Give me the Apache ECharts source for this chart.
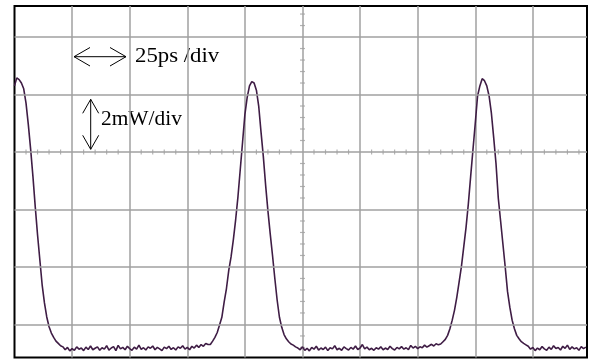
<!DOCTYPE html>
<html>
<head>
<meta charset="utf-8">
<script src="https://cdn.jsdelivr.net/npm/echarts@6/dist/echarts.min.js"></script>
<style>
  html, body { margin: 0; padding: 0; background: #fff; }
  #chart { width: 597px; height: 361px; }
</style>
</head>
<body>
<div id="chart"></div>
<script>
// scope trace: one sample per ps, power in mW (25 ps/div, 2 mW/div)
const sampleStartPs = 0;
const sampleStepPs = 1;
const powerMw = [
  9.30, 9.58, 9.52, 9.40, 9.20, 8.70, 7.95, 7.10, 6.15, 5.10,
  4.12, 3.25, 2.38, 1.75, 1.26, 0.92, 0.70, 0.55, 0.42, 0.34,
  0.26, 0.22, 0.12, 0.20, 0.08, 0.16, 0.10, 0.22, 0.14, 0.18,
  0.09, 0.21, 0.13, 0.25, 0.12, 0.17, 0.22, 0.10, 0.19, 0.14,
  0.26, 0.11, 0.18, 0.23, 0.09, 0.27, 0.15, 0.20, 0.12, 0.24,
  0.16, 0.10, 0.21, 0.14, 0.28, 0.13, 0.19, 0.11, 0.22, 0.17,
  0.25, 0.12, 0.20, 0.15, 0.09, 0.21, 0.16, 0.24, 0.13, 0.19,
  0.11, 0.22, 0.17, 0.26, 0.14, 0.20, 0.12, 0.24, 0.18, 0.28,
  0.20, 0.30, 0.24, 0.34, 0.30, 0.30, 0.42, 0.55, 0.72, 0.98,
  1.25, 1.78, 2.25, 2.88, 3.35, 3.95, 4.65, 5.45, 6.40, 7.35,
  8.30, 8.90, 9.30, 9.45, 9.40, 9.15, 8.60, 7.70, 6.85, 5.85,
  4.95, 4.15, 3.40, 2.60, 1.85, 1.25, 0.90, 0.65, 0.50, 0.40,
  0.32, 0.28, 0.22, 0.18, 0.12, 0.22, 0.10, 0.17, 0.08, 0.20,
  0.14, 0.24, 0.11, 0.18, 0.13, 0.21, 0.09, 0.19, 0.15, 0.26,
  0.12, 0.17, 0.10, 0.22, 0.16, 0.11, 0.20, 0.14, 0.25, 0.13,
  0.18, 0.30, 0.15, 0.21, 0.12, 0.17, 0.10, 0.19, 0.14, 0.22,
  0.12, 0.18, 0.13, 0.24, 0.16, 0.11, 0.20, 0.15, 0.23, 0.14,
  0.19, 0.12, 0.27, 0.18, 0.24, 0.16, 0.22, 0.19, 0.28, 0.21,
  0.26, 0.31, 0.25, 0.33, 0.29, 0.32, 0.40, 0.48, 0.62, 0.85,
  1.15, 1.50, 1.95, 2.48, 3.02, 3.70, 4.38, 5.20, 6.15, 7.08,
  8.00, 8.95, 9.30, 9.55, 9.48, 9.30, 8.95, 8.35, 7.50, 6.60,
  5.39, 4.60, 3.80, 3.00, 2.15, 1.60, 1.15, 0.85, 0.62, 0.50,
  0.40, 0.34, 0.29, 0.24, 0.14, 0.20, 0.09, 0.18, 0.12, 0.23,
  0.15, 0.10, 0.21, 0.13, 0.26, 0.16, 0.20, 0.11, 0.24, 0.17,
  0.28, 0.13, 0.22, 0.15, 0.19, 0.10, 0.23, 0.16, 0.21
];

// graticule
const timeMinPs = 0, timeMaxPs = 248.5, timeDivPs = 25;
const powerMinMw = -0.15, powerMaxMw = 12.08;
const gridLinesMw = [1, 3, 5, 7, 9, 11];
const centerTimePs = 125;
const centerPowerMw = 7;
const minorTimePs = [
  5, 10, 15, 20, 30, 35, 40, 45, 55, 60, 65, 70, 80, 85, 90, 95,
  105, 110, 115, 120, 130, 135, 140, 145, 155, 160, 165, 170,
  180, 185, 190, 195, 205, 210, 215, 220, 230, 235, 240, 245
];
const minorPowerMw = [
  0.2, 0.6, 1.4, 1.8, 2.2, 2.6, 3.4, 3.8, 4.2, 4.6, 5.4, 5.8,
  6.2, 6.6, 7.4, 7.8, 8.2, 8.6, 9.4, 9.8, 10.2, 10.6, 11.4, 11.8
];

const GRID_GREY = '#a0a0a0';
const TRACE = '#3f1d45';
const SERIF = '"Liberation Serif", "Times New Roman", serif';

const chart = echarts.init(document.getElementById('chart'));

const trace = powerMw.map((p, i) => [sampleStartPs + i * sampleStepPs, p]);

const option = {
  animation: false,
  backgroundColor: '#fff',
  grid: {
    left: 14.5, right: 10, top: 6, bottom: 3.5,
    show: true, borderColor: '#000', borderWidth: 2, backgroundColor: '#fff'
  },
  xAxis: {
    type: 'value', min: timeMinPs, max: timeMaxPs, interval: timeDivPs,
    axisLine: { show: false }, axisTick: { show: false }, axisLabel: { show: false },
    splitLine: {
      show: true, showMinLine: false, showMaxLine: false,
      lineStyle: { color: GRID_GREY, width: 1.5 }
    }
  },
  yAxis: {
    type: 'value', min: powerMinMw, max: powerMaxMw,
    axisLine: { show: false }, axisTick: { show: false }, axisLabel: { show: false },
    splitLine: { show: false }
  },
  series: [
    {
      type: 'scatter', z: 1, silent: true,
      symbol: 'rect', symbolSize: [1.2, 5],
      itemStyle: { color: GRID_GREY },
      data: minorTimePs.map(t => [t, centerPowerMw]),
      markLine: {
        silent: true, symbol: 'none', label: { show: false },
        lineStyle: { color: GRID_GREY, width: 1.5, type: 'solid' },
        data: gridLinesMw.map(v => ({ yAxis: v }))
      }
    },
    {
      type: 'scatter', z: 1, silent: true,
      symbol: 'rect', symbolSize: [5, 1.2],
      itemStyle: { color: GRID_GREY },
      data: minorPowerMw.map(v => [centerTimePs, v])
    },
    {
      type: 'line', z: 3, silent: true,
      showSymbol: false, symbol: 'none',
      lineStyle: { color: TRACE, width: 1.6 },
      data: trace
    }
  ],
  graphic: [
    // horizontal double arrow
    { type: 'line', shape: { x1: 74, y1: 56.7, x2: 126, y2: 56.7 }, style: { stroke: '#000', lineWidth: 1 } },
    { type: 'polyline', shape: { points: [[90, 47.5], [74, 56.7], [90, 66]] }, style: { stroke: '#000', fill: null, lineWidth: 1 } },
    { type: 'polyline', shape: { points: [[110, 47.5], [126, 56.7], [110, 66]] }, style: { stroke: '#000', fill: null, lineWidth: 1 } },
    {
      type: 'text', x: 135, y: 57, scaleX: 1.14,
      style: { text: '25ps /div', font: '20px ' + SERIF, fill: '#000', verticalAlign: 'middle' }
    },
    // vertical double arrow
    { type: 'line', shape: { x1: 90.7, y1: 99.3, x2: 90.7, y2: 149.3 }, style: { stroke: '#000', lineWidth: 1 } },
    { type: 'polyline', shape: { points: [[82.7, 113.3], [90.7, 99.3], [98.7, 113.3]] }, style: { stroke: '#000', fill: null, lineWidth: 1 } },
    { type: 'polyline', shape: { points: [[82.7, 135.3], [90.7, 149.3], [98.7, 135.3]] }, style: { stroke: '#000', fill: null, lineWidth: 1 } },
    {
      type: 'text', x: 101, y: 120, scaleX: 1.07,
      style: { text: '2mW/div', font: '20px ' + SERIF, fill: '#000', verticalAlign: 'middle' }
    }
  ]
};

chart.setOption(option);
</script>
</body>
</html>
